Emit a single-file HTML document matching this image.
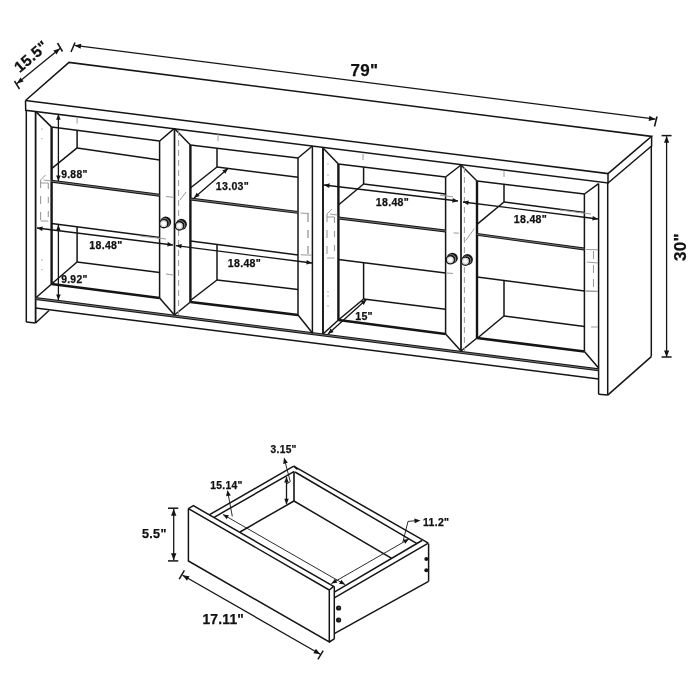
<!DOCTYPE html>
<html><head><meta charset="utf-8"><style>
html,body{margin:0;padding:0;background:#fff;}
svg{display:block;will-change:transform;}
text{font-family:"Liberation Sans",sans-serif;fill:#111;stroke:#111;stroke-width:0.25px;}
</style></head><body>
<svg width="700" height="700" viewBox="0 0 700 700">
<rect width="700" height="700" fill="#fff"/>
<polyline points="25.5,100.5 69,62.4 651.6,136.4 608,173.6 25.5,100.5" fill="none" stroke="#151515" stroke-width="1.5" stroke-linejoin="miter"/>
<polyline points="25.5,100.5 25.7,110.3 608,183 608,173.6" fill="none" stroke="#151515" stroke-width="1.5" stroke-linejoin="miter"/>
<polyline points="651.6,136.4 651.6,146 608,183" fill="none" stroke="#151515" stroke-width="1.5" stroke-linejoin="miter"/>
<line x1="26.3" y1="110.3" x2="26.3" y2="322" stroke="#151515" stroke-width="1.5" stroke-linecap="butt"/>
<line x1="35.6" y1="111.4" x2="35.6" y2="323" stroke="#151515" stroke-width="1.8" stroke-linecap="butt"/>
<line x1="26.3" y1="322" x2="35.6" y2="323" stroke="#151515" stroke-width="1.5" stroke-linecap="butt"/>
<line x1="35.6" y1="323" x2="49" y2="310.5" stroke="#151515" stroke-width="1.5" stroke-linecap="butt"/>
<line x1="598.6" y1="183.6" x2="598.6" y2="394.3" stroke="#151515" stroke-width="1.5" stroke-linecap="butt"/>
<line x1="607.7" y1="183" x2="607.7" y2="395.1" stroke="#151515" stroke-width="1.5" stroke-linecap="butt"/>
<line x1="598.6" y1="394.3" x2="607.7" y2="395.1" stroke="#151515" stroke-width="1.5" stroke-linecap="butt"/>
<line x1="651.3" y1="146" x2="651.3" y2="356.6" stroke="#151515" stroke-width="1.5" stroke-linecap="butt"/>
<line x1="607.7" y1="395.1" x2="651.3" y2="356.6" stroke="#151515" stroke-width="1.5" stroke-linecap="butt"/>
<line x1="35.5" y1="298.5" x2="598.6" y2="369.8" stroke="#151515" stroke-width="2.9" stroke-linecap="butt"/>
<line x1="35.5" y1="298.5" x2="598.6" y2="369.8" stroke="#8a8a8a" stroke-width="0.8" stroke-linecap="butt"/>
<line x1="35.5" y1="308" x2="598.6" y2="379" stroke="#151515" stroke-width="1.5" stroke-linecap="butt"/>
<line x1="35.6" y1="111.4" x2="51.6" y2="127.1" stroke="#151515" stroke-width="1.5" stroke-linecap="butt"/>
<line x1="174.4" y1="128.4" x2="159.6" y2="141.0" stroke="#151515" stroke-width="1.5" stroke-linecap="butt"/>
<line x1="35.6" y1="298.0" x2="51.6" y2="284.0" stroke="#151515" stroke-width="1.5" stroke-linecap="butt"/>
<line x1="174.4" y1="315.0" x2="159.6" y2="298.0" stroke="#151515" stroke-width="1.5" stroke-linecap="butt"/>
<line x1="51.6" y1="127.1" x2="159.6" y2="141.0" stroke="#151515" stroke-width="1.5" stroke-linecap="butt"/>
<line x1="51.6" y1="284.0" x2="159.6" y2="298.0" stroke="#151515" stroke-width="2.6" stroke-linecap="butt"/>
<line x1="51.6" y1="127.1" x2="51.6" y2="284.0" stroke="#151515" stroke-width="2.4" stroke-linecap="butt"/>
<line x1="159.6" y1="141.0" x2="159.6" y2="298.0" stroke="#151515" stroke-width="1.5" stroke-linecap="butt"/>
<line x1="174.4" y1="128.4" x2="190.4" y2="145.0" stroke="#151515" stroke-width="1.5" stroke-linecap="butt"/>
<line x1="312.4" y1="146.0" x2="298.0" y2="158.0" stroke="#151515" stroke-width="1.5" stroke-linecap="butt"/>
<line x1="174.4" y1="315.0" x2="190.4" y2="302.0" stroke="#151515" stroke-width="1.5" stroke-linecap="butt"/>
<line x1="312.4" y1="333.0" x2="298.0" y2="315.0" stroke="#151515" stroke-width="1.5" stroke-linecap="butt"/>
<line x1="190.4" y1="145.0" x2="298.0" y2="158.0" stroke="#151515" stroke-width="1.5" stroke-linecap="butt"/>
<line x1="190.4" y1="302.0" x2="298.0" y2="315.0" stroke="#151515" stroke-width="2.6" stroke-linecap="butt"/>
<line x1="190.4" y1="145.0" x2="190.4" y2="302.0" stroke="#151515" stroke-width="2.4" stroke-linecap="butt"/>
<line x1="298.0" y1="158.0" x2="298.0" y2="315.0" stroke="#151515" stroke-width="1.5" stroke-linecap="butt"/>
<line x1="323.0" y1="148.0" x2="338.4" y2="164.0" stroke="#151515" stroke-width="1.5" stroke-linecap="butt"/>
<line x1="461.0" y1="165.0" x2="445.6" y2="177.0" stroke="#151515" stroke-width="1.5" stroke-linecap="butt"/>
<line x1="323.0" y1="334.0" x2="338.4" y2="320.0" stroke="#151515" stroke-width="1.5" stroke-linecap="butt"/>
<line x1="461.0" y1="351.0" x2="445.6" y2="334.0" stroke="#151515" stroke-width="1.5" stroke-linecap="butt"/>
<line x1="338.4" y1="164.0" x2="445.6" y2="177.0" stroke="#151515" stroke-width="1.5" stroke-linecap="butt"/>
<line x1="338.4" y1="320.0" x2="445.6" y2="334.0" stroke="#151515" stroke-width="2.6" stroke-linecap="butt"/>
<line x1="338.4" y1="164.0" x2="338.4" y2="320.0" stroke="#151515" stroke-width="2.4" stroke-linecap="butt"/>
<line x1="445.6" y1="177.0" x2="445.6" y2="334.0" stroke="#151515" stroke-width="1.5" stroke-linecap="butt"/>
<line x1="461.0" y1="165.0" x2="477.0" y2="181.0" stroke="#151515" stroke-width="1.5" stroke-linecap="butt"/>
<line x1="598.6" y1="183.6" x2="584.4" y2="194.0" stroke="#151515" stroke-width="1.5" stroke-linecap="butt"/>
<line x1="461.0" y1="351.0" x2="477.0" y2="338.0" stroke="#151515" stroke-width="1.5" stroke-linecap="butt"/>
<line x1="598.6" y1="368.0" x2="584.4" y2="351.5" stroke="#151515" stroke-width="1.5" stroke-linecap="butt"/>
<line x1="477.0" y1="181.0" x2="584.4" y2="194.0" stroke="#151515" stroke-width="1.5" stroke-linecap="butt"/>
<line x1="477.0" y1="338.0" x2="584.4" y2="351.5" stroke="#151515" stroke-width="2.6" stroke-linecap="butt"/>
<line x1="477.0" y1="181.0" x2="477.0" y2="338.0" stroke="#151515" stroke-width="2.4" stroke-linecap="butt"/>
<line x1="584.4" y1="194.0" x2="584.4" y2="351.5" stroke="#151515" stroke-width="1.5" stroke-linecap="butt"/>
<line x1="174.5" y1="128.4" x2="174.5" y2="315" stroke="#151515" stroke-width="1.7" stroke-linecap="butt"/>
<line x1="312.4" y1="146" x2="312.4" y2="333.5" stroke="#151515" stroke-width="1.5" stroke-linecap="butt"/>
<line x1="323" y1="148" x2="323" y2="334" stroke="#151515" stroke-width="1.9" stroke-linecap="butt"/>
<line x1="461" y1="165" x2="461" y2="351" stroke="#151515" stroke-width="1.7" stroke-linecap="butt"/>
<line x1="77.1" y1="130.6" x2="77.1" y2="147.9" stroke="#151515" stroke-width="1.5" stroke-linecap="butt"/>
<line x1="77.1" y1="147.9" x2="159.6" y2="160.0" stroke="#151515" stroke-width="1.5" stroke-linecap="butt"/>
<line x1="77.1" y1="147.9" x2="51.6" y2="168.6" stroke="#151515" stroke-width="1.5" stroke-linecap="butt"/>
<line x1="51.6" y1="181.2" x2="159.6" y2="195.2" stroke="#151515" stroke-width="2.9" stroke-linecap="butt"/>
<line x1="51.6" y1="181.2" x2="159.6" y2="195.2" stroke="#8a8a8a" stroke-width="0.8" stroke-linecap="butt"/>
<line x1="51.6" y1="223.6" x2="159.6" y2="237.4" stroke="#151515" stroke-width="1.5" stroke-linecap="butt"/>
<line x1="77.1" y1="226.8" x2="77.1" y2="262" stroke="#151515" stroke-width="1.5" stroke-linecap="butt"/>
<line x1="77.1" y1="262" x2="51.6" y2="284" stroke="#151515" stroke-width="1.5" stroke-linecap="butt"/>
<line x1="77.1" y1="262" x2="159.6" y2="272.5" stroke="#151515" stroke-width="1.5" stroke-linecap="butt"/>
<line x1="217" y1="148.3" x2="217" y2="167" stroke="#151515" stroke-width="1.5" stroke-linecap="butt"/>
<line x1="217" y1="167" x2="298" y2="177.3" stroke="#151515" stroke-width="1.5" stroke-linecap="butt"/>
<line x1="217" y1="167" x2="190.4" y2="188" stroke="#151515" stroke-width="1.5" stroke-linecap="butt"/>
<line x1="190.4" y1="199" x2="298" y2="212.4" stroke="#151515" stroke-width="2.9" stroke-linecap="butt"/>
<line x1="190.4" y1="199" x2="298" y2="212.4" stroke="#8a8a8a" stroke-width="0.8" stroke-linecap="butt"/>
<line x1="190.4" y1="241" x2="298" y2="255" stroke="#151515" stroke-width="1.5" stroke-linecap="butt"/>
<line x1="217" y1="244.5" x2="217" y2="280" stroke="#151515" stroke-width="1.5" stroke-linecap="butt"/>
<line x1="217" y1="280" x2="190.4" y2="300.5" stroke="#151515" stroke-width="1.5" stroke-linecap="butt"/>
<line x1="217" y1="280" x2="298" y2="289.5" stroke="#151515" stroke-width="1.5" stroke-linecap="butt"/>
<line x1="363.6" y1="167" x2="363.6" y2="184" stroke="#151515" stroke-width="1.5" stroke-linecap="butt"/>
<line x1="363.6" y1="184" x2="445.6" y2="194" stroke="#151515" stroke-width="1.5" stroke-linecap="butt"/>
<line x1="363.6" y1="184" x2="338.4" y2="205" stroke="#151515" stroke-width="1.5" stroke-linecap="butt"/>
<line x1="338.4" y1="218" x2="445.6" y2="231" stroke="#151515" stroke-width="2.9" stroke-linecap="butt"/>
<line x1="338.4" y1="218" x2="445.6" y2="231" stroke="#8a8a8a" stroke-width="0.8" stroke-linecap="butt"/>
<line x1="338.4" y1="259.6" x2="445.6" y2="273" stroke="#151515" stroke-width="1.5" stroke-linecap="butt"/>
<line x1="363.6" y1="262.6" x2="363.6" y2="299" stroke="#151515" stroke-width="1.5" stroke-linecap="butt"/>
<line x1="363.6" y1="299" x2="338.4" y2="320" stroke="#151515" stroke-width="1.5" stroke-linecap="butt"/>
<line x1="363.6" y1="299" x2="445.6" y2="309.2" stroke="#151515" stroke-width="1.5" stroke-linecap="butt"/>
<line x1="504" y1="184.5" x2="504" y2="202" stroke="#151515" stroke-width="1.5" stroke-linecap="butt"/>
<line x1="504" y1="202" x2="584.4" y2="212.5" stroke="#151515" stroke-width="1.5" stroke-linecap="butt"/>
<line x1="504" y1="202" x2="477" y2="224.4" stroke="#151515" stroke-width="1.5" stroke-linecap="butt"/>
<line x1="477" y1="234.4" x2="584.4" y2="249" stroke="#151515" stroke-width="2.9" stroke-linecap="butt"/>
<line x1="477" y1="234.4" x2="584.4" y2="249" stroke="#8a8a8a" stroke-width="0.8" stroke-linecap="butt"/>
<line x1="477" y1="277" x2="584.4" y2="291" stroke="#151515" stroke-width="1.5" stroke-linecap="butt"/>
<line x1="504" y1="280.6" x2="504" y2="316" stroke="#151515" stroke-width="1.5" stroke-linecap="butt"/>
<line x1="504" y1="316" x2="477.6" y2="338" stroke="#151515" stroke-width="1.5" stroke-linecap="butt"/>
<line x1="504" y1="316" x2="584.4" y2="326.4" stroke="#151515" stroke-width="1.5" stroke-linecap="butt"/>
<line x1="178.6" y1="130" x2="178.6" y2="315" stroke="#9a9a9a" stroke-width="1.0" stroke-linecap="butt" stroke-dasharray="6,4"/>
<line x1="464.4" y1="167" x2="464.4" y2="351" stroke="#9a9a9a" stroke-width="1.0" stroke-linecap="butt" stroke-dasharray="6,4"/>
<circle cx="42" cy="129" r="0.7" fill="#9a9a9a" stroke="none" stroke-width="0"/>
<circle cx="42" cy="138.6" r="0.7" fill="#9a9a9a" stroke="none" stroke-width="0"/>
<circle cx="42" cy="260" r="0.7" fill="#9a9a9a" stroke="none" stroke-width="0"/>
<circle cx="42" cy="269.6" r="0.7" fill="#9a9a9a" stroke="none" stroke-width="0"/>
<circle cx="328" cy="164" r="0.7" fill="#9a9a9a" stroke="none" stroke-width="0"/>
<circle cx="328" cy="175" r="0.7" fill="#9a9a9a" stroke="none" stroke-width="0"/>
<circle cx="328" cy="296" r="0.7" fill="#9a9a9a" stroke="none" stroke-width="0"/>
<circle cx="328" cy="306" r="0.7" fill="#9a9a9a" stroke="none" stroke-width="0"/>
<circle cx="328" cy="292" r="0.7" fill="#9a9a9a" stroke="none" stroke-width="0"/>
<line x1="40.6" y1="180" x2="40.6" y2="221" stroke="#9a9a9a" stroke-width="1.1" stroke-linecap="butt" stroke-dasharray="8,8"/>
<line x1="48.3" y1="183" x2="48.3" y2="221" stroke="#9a9a9a" stroke-width="1.1" stroke-linecap="butt" stroke-dasharray="6,8"/>
<line x1="40.6" y1="183" x2="48.3" y2="183" stroke="#9a9a9a" stroke-width="1.0" stroke-linecap="butt"/>
<line x1="40.6" y1="221" x2="48.3" y2="221" stroke="#9a9a9a" stroke-width="1.0" stroke-linecap="butt"/>
<line x1="43.6" y1="180" x2="51.3" y2="181" stroke="#9a9a9a" stroke-width="1.0" stroke-linecap="butt"/>
<line x1="40.6" y1="180" x2="45.6" y2="175" stroke="#9a9a9a" stroke-width="1.0" stroke-linecap="butt"/>
<line x1="308" y1="214" x2="308" y2="254" stroke="#aaa" stroke-width="1.6" stroke-linecap="butt" stroke-dasharray="8,8"/>
<line x1="300.6" y1="213" x2="309" y2="213.5" stroke="#9a9a9a" stroke-width="1.0" stroke-linecap="butt"/>
<line x1="300.6" y1="254.8" x2="312" y2="255.2" stroke="#9a9a9a" stroke-width="1.0" stroke-linecap="butt"/>
<line x1="327" y1="214" x2="327" y2="258" stroke="#9a9a9a" stroke-width="1.1" stroke-linecap="butt" stroke-dasharray="8,8"/>
<line x1="334.5" y1="217" x2="334.5" y2="258" stroke="#9a9a9a" stroke-width="1.1" stroke-linecap="butt" stroke-dasharray="6,8"/>
<line x1="327" y1="217" x2="334.5" y2="217" stroke="#9a9a9a" stroke-width="1.0" stroke-linecap="butt"/>
<line x1="327" y1="258" x2="334.5" y2="258" stroke="#9a9a9a" stroke-width="1.0" stroke-linecap="butt"/>
<line x1="330" y1="214" x2="337.5" y2="215" stroke="#9a9a9a" stroke-width="1.0" stroke-linecap="butt"/>
<line x1="327" y1="214" x2="332" y2="209" stroke="#9a9a9a" stroke-width="1.0" stroke-linecap="butt"/>
<line x1="593.5" y1="251" x2="593.5" y2="290" stroke="#9a9a9a" stroke-width="1.0" stroke-linecap="butt" stroke-dasharray="8,6"/>
<line x1="586" y1="249.5" x2="598" y2="249.8" stroke="#9a9a9a" stroke-width="1.0" stroke-linecap="butt"/>
<line x1="586" y1="291" x2="598" y2="291.3" stroke="#9a9a9a" stroke-width="1.0" stroke-linecap="butt"/>
<line x1="166" y1="196.5" x2="173" y2="197.3" stroke="#9a9a9a" stroke-width="1.0" stroke-linecap="butt"/>
<line x1="453.7" y1="232.9" x2="458.9" y2="233.2" stroke="#9a9a9a" stroke-width="1.0" stroke-linecap="butt"/>
<line x1="465.7" y1="240.6" x2="474.3" y2="228.6" stroke="#9a9a9a" stroke-width="1.0" stroke-linecap="butt"/>
<line x1="180" y1="200" x2="186" y2="192" stroke="#9a9a9a" stroke-width="1.0" stroke-linecap="butt"/>
<line x1="440" y1="195.3" x2="453" y2="196.8" stroke="#9a9a9a" stroke-width="1.0" stroke-linecap="butt"/>
<line x1="447" y1="273" x2="453" y2="273.5" stroke="#9a9a9a" stroke-width="1.0" stroke-linecap="butt"/>
<line x1="560" y1="210" x2="591" y2="214" stroke="#9a9a9a" stroke-width="1.0" stroke-linecap="butt"/>
<line x1="587" y1="262" x2="598" y2="263" stroke="#9a9a9a" stroke-width="1.0" stroke-linecap="butt"/>
<line x1="591" y1="327" x2="598" y2="327" stroke="#9a9a9a" stroke-width="1.0" stroke-linecap="butt"/>
<line x1="585" y1="291" x2="598" y2="291.5" stroke="#9a9a9a" stroke-width="1.0" stroke-linecap="butt"/>
<line x1="77.1" y1="117" x2="77.1" y2="123.6" stroke="#9a9a9a" stroke-width="1.0" stroke-linecap="butt"/>
<line x1="218" y1="134" x2="218" y2="141" stroke="#9a9a9a" stroke-width="1.0" stroke-linecap="butt"/>
<line x1="363" y1="154" x2="363" y2="160" stroke="#9a9a9a" stroke-width="1.0" stroke-linecap="butt"/>
<line x1="504" y1="171" x2="504" y2="177" stroke="#9a9a9a" stroke-width="1.0" stroke-linecap="butt"/>
<line x1="140" y1="236" x2="166" y2="239" stroke="#9a9a9a" stroke-width="1.0" stroke-linecap="butt"/>
<line x1="166" y1="274" x2="173" y2="275" stroke="#9a9a9a" stroke-width="1.0" stroke-linecap="butt"/>
<circle cx="165.7" cy="222.1" r="5.5" fill="#151515" stroke="none" stroke-width="0"/>
<circle cx="164.7" cy="223.0" r="4.4" fill="none" stroke="#fff" stroke-width="0.5"/>
<circle cx="163.7" cy="223.7" r="4.1" fill="#fff" stroke="#151515" stroke-width="1.4"/>
<circle cx="163.7" cy="223.7" r="2.9" fill="none" stroke="#aaa" stroke-width="0.6"/>
<circle cx="181.4" cy="224.3" r="5.5" fill="#151515" stroke="none" stroke-width="0"/>
<circle cx="180.4" cy="225.20000000000002" r="4.4" fill="none" stroke="#fff" stroke-width="0.5"/>
<circle cx="179.4" cy="225.9" r="4.1" fill="#fff" stroke="#151515" stroke-width="1.4"/>
<circle cx="179.4" cy="225.9" r="2.9" fill="none" stroke="#aaa" stroke-width="0.6"/>
<circle cx="452.3" cy="258.2" r="5.5" fill="#151515" stroke="none" stroke-width="0"/>
<circle cx="451.3" cy="259.09999999999997" r="4.4" fill="none" stroke="#fff" stroke-width="0.5"/>
<circle cx="450.3" cy="259.8" r="4.1" fill="#fff" stroke="#151515" stroke-width="1.4"/>
<circle cx="450.3" cy="259.8" r="2.9" fill="none" stroke="#aaa" stroke-width="0.6"/>
<circle cx="467.4" cy="259.6" r="5.5" fill="#151515" stroke="none" stroke-width="0"/>
<circle cx="466.4" cy="260.5" r="4.4" fill="none" stroke="#fff" stroke-width="0.5"/>
<circle cx="465.4" cy="261.20000000000005" r="4.1" fill="#fff" stroke="#151515" stroke-width="1.4"/>
<circle cx="465.4" cy="261.20000000000005" r="2.9" fill="none" stroke="#aaa" stroke-width="0.6"/>
<line x1="17" y1="83.6" x2="60" y2="48.4" stroke="#151515" stroke-width="1.3" stroke-linecap="butt"/>
<polygon points="17.00,83.60 20.38,77.47 23.68,81.49" fill="#151515"/>
<polygon points="60.00,48.40 56.62,54.53 53.32,50.51" fill="#151515"/>
<line x1="14.5" y1="81" x2="19.5" y2="89" stroke="#151515" stroke-width="1.5" stroke-linecap="butt"/>
<line x1="57.5" y1="43" x2="62.5" y2="51.5" stroke="#151515" stroke-width="1.5" stroke-linecap="butt"/>
<text x="34.5" y="60.5" font-size="15.5" font-weight="bold" text-anchor="middle" letter-spacing="0.3" transform="rotate(-40.5 34.5 60.5)">15.5&quot;</text>
<line x1="74.5" y1="45.4" x2="655.5" y2="119.2" stroke="#151515" stroke-width="1.3" stroke-linecap="butt"/>
<polygon points="74.50,45.40 81.28,43.64 80.62,48.80" fill="#151515"/>
<polygon points="655.50,119.20 648.72,120.96 649.38,115.80" fill="#151515"/>
<line x1="71" y1="52" x2="75" y2="42.5" stroke="#151515" stroke-width="1.5" stroke-linecap="butt"/>
<line x1="657" y1="116.5" x2="654.5" y2="126.5" stroke="#151515" stroke-width="1.5" stroke-linecap="butt"/>
<text x="364.5" y="76.3" font-size="17" font-weight="bold" text-anchor="middle" letter-spacing="0.3">79&quot;</text>
<line x1="666.6" y1="136.2" x2="666.6" y2="357" stroke="#151515" stroke-width="1.3" stroke-linecap="butt"/>
<polygon points="666.60,136.20 669.20,142.70 664.00,142.70" fill="#151515"/>
<polygon points="666.60,357.00 664.00,350.50 669.20,350.50" fill="#151515"/>
<line x1="661.6" y1="135.6" x2="671.6" y2="135.6" stroke="#151515" stroke-width="1.5" stroke-linecap="butt"/>
<line x1="661.6" y1="357" x2="671.6" y2="357" stroke="#151515" stroke-width="1.5" stroke-linecap="butt"/>
<text x="685.5" y="247" font-size="17" font-weight="bold" text-anchor="middle" letter-spacing="0.3" transform="rotate(-90 685.5 247)">30&quot;</text>
<line x1="58.4" y1="114.3" x2="58.4" y2="181" stroke="#151515" stroke-width="1.3" stroke-linecap="butt"/>
<polygon points="58.40,114.30 60.70,119.80 56.10,119.80" fill="#151515"/>
<polygon points="58.40,181.00 56.10,175.50 60.70,175.50" fill="#151515"/>
<text x="61.2" y="178.2" font-size="10.3" font-weight="bold" text-anchor="start" letter-spacing="0.3">9.88&quot;</text>
<line x1="58.4" y1="225" x2="58.4" y2="300" stroke="#151515" stroke-width="1.3" stroke-linecap="butt"/>
<polygon points="58.40,225.00 60.70,230.50 56.10,230.50" fill="#151515"/>
<polygon points="58.40,300.00 56.10,294.50 60.70,294.50" fill="#151515"/>
<text x="61.2" y="283.3" font-size="10.3" font-weight="bold" text-anchor="start" letter-spacing="0.3">9.92&quot;</text>
<line x1="37" y1="228" x2="173" y2="245" stroke="#151515" stroke-width="1.3" stroke-linecap="butt"/>
<polygon points="37.00,228.00 42.74,226.40 42.17,230.96" fill="#151515"/>
<polygon points="173.00,245.00 167.26,246.60 167.83,242.04" fill="#151515"/>
<text x="89.3" y="249.2" font-size="10.6" font-weight="bold" text-anchor="start" letter-spacing="0.3">18.48&quot;</text>
<line x1="176" y1="245.6" x2="312" y2="263" stroke="#151515" stroke-width="1.3" stroke-linecap="butt"/>
<polygon points="176.00,245.60 181.75,244.02 181.16,248.58" fill="#151515"/>
<polygon points="312.00,263.00 306.25,264.58 306.84,260.02" fill="#151515"/>
<text x="227.8" y="267.2" font-size="10.6" font-weight="bold" text-anchor="start" letter-spacing="0.3">18.48&quot;</text>
<line x1="324" y1="185" x2="458" y2="201" stroke="#151515" stroke-width="1.3" stroke-linecap="butt"/>
<polygon points="324.00,185.00 329.73,183.37 329.19,187.94" fill="#151515"/>
<polygon points="458.00,201.00 452.27,202.63 452.81,198.06" fill="#151515"/>
<text x="375.8" y="205.8" font-size="10.6" font-weight="bold" text-anchor="start" letter-spacing="0.3">18.48&quot;</text>
<line x1="463" y1="202" x2="598" y2="219" stroke="#151515" stroke-width="1.3" stroke-linecap="butt"/>
<polygon points="463.00,202.00 468.74,200.41 468.17,204.97" fill="#151515"/>
<polygon points="598.00,219.00 592.26,220.59 592.83,216.03" fill="#151515"/>
<text x="513.8" y="223.2" font-size="10.6" font-weight="bold" text-anchor="start" letter-spacing="0.3">18.48&quot;</text>
<line x1="194" y1="198" x2="228" y2="168.4" stroke="#151515" stroke-width="1.3" stroke-linecap="butt"/>
<polygon points="194.00,198.00 196.64,192.65 199.66,196.12" fill="#151515"/>
<polygon points="228.00,168.40 225.36,173.75 222.34,170.28" fill="#151515"/>
<text x="215.8" y="190.4" font-size="10.6" font-weight="bold" text-anchor="start" letter-spacing="0.3">13.03&quot;</text>
<line x1="328" y1="334" x2="366.4" y2="299.6" stroke="#151515" stroke-width="1.3" stroke-linecap="butt"/>
<polygon points="328.00,334.00 330.56,328.62 333.63,332.04" fill="#151515"/>
<polygon points="366.40,299.60 363.84,304.98 360.77,301.56" fill="#151515"/>
<text x="355.2" y="319.8" font-size="10.6" font-weight="bold" text-anchor="start" letter-spacing="0.3">15&quot;</text>
<polyline points="188.4,508.6 188.4,561 329.3,642 329.3,590 188.4,508.6" fill="none" stroke="#151515" stroke-width="1.5" stroke-linejoin="miter"/>
<polyline points="188.4,508.6 193.4,505.7 333.6,586.4 329.3,590" fill="none" stroke="#151515" stroke-width="1.5" stroke-linejoin="miter"/>
<line x1="334.3" y1="586.4" x2="334.3" y2="638.9" stroke="#151515" stroke-width="1.5" stroke-linecap="butt"/>
<line x1="329.3" y1="642" x2="334.3" y2="638.9" stroke="#151515" stroke-width="1.5" stroke-linecap="butt"/>
<line x1="209.6" y1="514.7" x2="293.7" y2="466.1" stroke="#151515" stroke-width="1.5" stroke-linecap="butt"/>
<line x1="214.1" y1="517.3" x2="294.3" y2="471.4" stroke="#151515" stroke-width="1.5" stroke-linecap="butt"/>
<line x1="293.7" y1="466.1" x2="428.3" y2="543.2" stroke="#151515" stroke-width="1.5" stroke-linecap="butt"/>
<line x1="295" y1="472" x2="417" y2="543.6" stroke="#151515" stroke-width="1.5" stroke-linecap="butt"/>
<line x1="293.7" y1="466.1" x2="297.5" y2="469.5" stroke="#151515" stroke-width="1.5" stroke-linecap="butt"/>
<line x1="294" y1="472" x2="294" y2="501" stroke="#151515" stroke-width="1.6" stroke-linecap="butt"/>
<line x1="294" y1="501" x2="391.7" y2="558.3" stroke="#151515" stroke-width="1.5" stroke-linecap="butt"/>
<line x1="294" y1="501" x2="240" y2="532" stroke="#151515" stroke-width="1.5" stroke-linecap="butt"/>
<line x1="422" y1="540.5" x2="334.3" y2="592.1" stroke="#151515" stroke-width="1.5" stroke-linecap="butt"/>
<line x1="428.3" y1="543.2" x2="334.3" y2="597.9" stroke="#151515" stroke-width="1.5" stroke-linecap="butt"/>
<line x1="428.6" y1="543.7" x2="428.6" y2="581.4" stroke="#151515" stroke-width="1.5" stroke-linecap="butt"/>
<line x1="428.6" y1="581.4" x2="334.3" y2="633.7" stroke="#151515" stroke-width="1.5" stroke-linecap="butt"/>
<circle cx="426.3" cy="559.1" r="2.0" fill="#151515" stroke="none" stroke-width="0"/>
<circle cx="426.3" cy="570.3" r="2.0" fill="#151515" stroke="none" stroke-width="0"/>
<circle cx="338.6" cy="608" r="2.6" fill="#151515" stroke="none" stroke-width="0"/>
<circle cx="339.1" cy="607.7" r="0.8" fill="#666" stroke="none" stroke-width="0"/>
<circle cx="338.6" cy="620" r="2.6" fill="#151515" stroke="none" stroke-width="0"/>
<circle cx="339.1" cy="619.7" r="0.8" fill="#666" stroke="none" stroke-width="0"/>
<line x1="173.7" y1="508.8" x2="173.7" y2="560.3" stroke="#151515" stroke-width="1.3" stroke-linecap="butt"/>
<polygon points="173.70,508.80 176.40,515.80 171.00,515.80" fill="#151515"/>
<polygon points="173.70,560.30 171.00,553.30 176.40,553.30" fill="#151515"/>
<line x1="168" y1="508.2" x2="178.3" y2="508.2" stroke="#151515" stroke-width="1.5" stroke-linecap="butt"/>
<line x1="168" y1="560.9" x2="178.3" y2="560.9" stroke="#151515" stroke-width="1.5" stroke-linecap="butt"/>
<text x="142" y="538.2" font-size="12.6" font-weight="bold" text-anchor="start" letter-spacing="0.3">5.5&quot;</text>
<line x1="182.6" y1="575.2" x2="320.3" y2="654.2" stroke="#151515" stroke-width="1.3" stroke-linecap="butt"/>
<polygon points="182.60,575.20 189.53,576.18 186.94,580.69" fill="#151515"/>
<polygon points="320.30,654.20 313.37,653.22 315.96,648.71" fill="#151515"/>
<line x1="179.2" y1="579.2" x2="184.4" y2="570.3" stroke="#151515" stroke-width="1.5" stroke-linecap="butt"/>
<line x1="317.9" y1="659.4" x2="323.2" y2="650.6" stroke="#151515" stroke-width="1.5" stroke-linecap="butt"/>
<text x="202.5" y="623.8" font-size="13.8" font-weight="bold" text-anchor="start" letter-spacing="0.2">17.11&quot;</text>
<line x1="286.5" y1="477" x2="286.5" y2="504.2" stroke="#151515" stroke-width="1.3" stroke-linecap="butt"/>
<polygon points="286.50,477.00 288.80,482.50 284.20,482.50" fill="#151515"/>
<polygon points="286.50,504.20 284.20,498.70 288.80,498.70" fill="#151515"/>
<polyline points="286.5,484 290.3,481.7 284.5,459.5" fill="none" stroke="#151515" stroke-width="0.9" stroke-linejoin="miter"/>
<polygon points="284.00,457.50 287.83,462.70 283.19,463.91" fill="#151515"/>
<text x="270.6" y="452.9" font-size="10.2" font-weight="bold" text-anchor="start" letter-spacing="0.3">3.15&quot;</text>
<line x1="223" y1="514.5" x2="345" y2="584.6" stroke="#151515" stroke-width="0.9" stroke-linecap="butt"/>
<polygon points="223.00,514.50 228.91,515.25 226.62,519.23" fill="#151515"/>
<polygon points="345.00,584.60 339.09,583.85 341.38,579.87" fill="#151515"/>
<polyline points="232.3,516.4 227.7,491.7" fill="none" stroke="#151515" stroke-width="0.9" stroke-linejoin="miter"/>
<polygon points="227.40,490.00 230.85,495.46 226.14,496.34" fill="#151515"/>
<text x="210.3" y="488.5" font-size="10.3" font-weight="bold" text-anchor="start" letter-spacing="0.3">15.14&quot;</text>
<line x1="331.4" y1="583.6" x2="408.9" y2="539" stroke="#151515" stroke-width="0.9" stroke-linecap="butt"/>
<polygon points="331.40,583.60 335.02,578.86 337.31,582.85" fill="#151515"/>
<polygon points="408.90,539.00 405.28,543.74 402.99,539.75" fill="#151515"/>
<polyline points="402.9,542 408,521.4 417,520.6" fill="none" stroke="#151515" stroke-width="0.9" stroke-linejoin="miter"/>
<polygon points="420.50,520.40 414.71,523.27 414.33,518.49" fill="#151515"/>
<text x="423" y="525.8" font-size="10.5" font-weight="bold" text-anchor="start" letter-spacing="0.3">11.2&quot;</text>
</svg>
</body></html>
